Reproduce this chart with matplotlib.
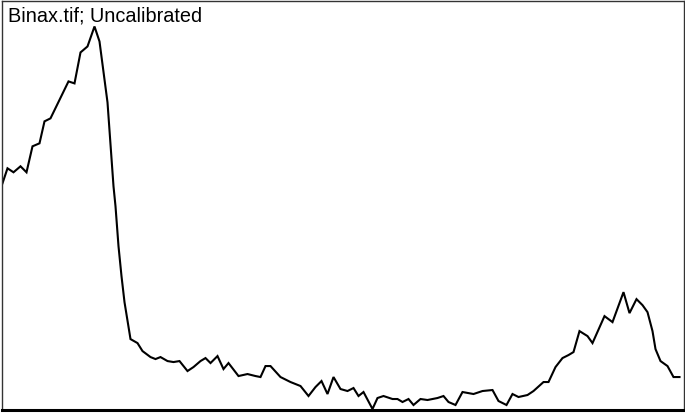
import numpy as np
import matplotlib
matplotlib.use("Agg")
import matplotlib.pyplot as plt

# profile position (pixels along the line) and gray value
position = [1, 6, 12, 19, 25, 31, 38, 43, 49, 67, 73, 79, 86, 93, 98, 106,
            112, 114, 117, 120, 123, 129, 136, 141, 149, 154, 159, 166, 172, 178,
            186, 192, 199, 204, 209, 216, 222, 227, 237, 246, 254, 259, 264, 269,
            279, 289, 299, 307, 314, 320, 326, 332, 339, 346, 352, 357, 362, 371,
            376, 382, 391, 396, 401, 407, 412, 419, 426, 436, 442, 447, 454, 461,
            472, 481, 491, 497, 505, 511, 517, 526, 532, 542, 547, 554, 561, 567,
            572, 578, 586, 591, 603, 611, 622, 628, 635, 641, 646, 651, 654, 659,
            666, 672, 678]
gray = [133.5, 141, 139, 142, 139, 152, 153.5, 164.5, 166, 184.5, 183.5, 199,
        202, 212, 204.5, 174, 132, 122, 102, 87, 74, 55.5, 53.5, 49.5, 46.5,
        45.5, 46.5, 44.5, 44, 44.5, 39.5, 41.5, 44.5, 46, 43.5, 47, 40.5, 43.5,
        37, 38, 37, 36.5, 42, 42, 36.5, 34, 32, 27, 31.5, 34.5, 28, 36.5, 30.5,
        29.5, 31, 27, 29, 20.5, 26, 27, 25.5, 25.5, 24, 25.5, 22.5, 25.5, 25,
        26, 27, 24, 22.5, 29, 28, 29.5, 30, 24.5, 22.5, 28, 26.5, 27.5, 29.5,
        34, 34, 41.5, 46, 47.5, 49, 59.5, 57, 53.5, 67, 64, 79, 68.5, 75.5,
        72.5, 69, 59.5, 50.5, 44.5, 42, 36.5, 36.5]
title = "Binax.tif; Uncalibrated"

W, H = 685, 414
fig = plt.figure(figsize=(W / 100, H / 100), dpi=100)
ax = fig.add_axes([1.5 / W, (H - 410.5) / H, 682 / W, 409 / H])

ax.plot(position, gray, color="black", lw=1.5, solid_joinstyle="miter")
ax.set_xlim(0, 682)
ax.set_ylim(20.25, 225)
ax.set_xticks([])
ax.set_yticks([])
for side in ["left", "top", "right"]:
    ax.spines[side].set_linewidth(1.0)
    ax.spines[side].set_color("#333333")
ax.spines["bottom"].set_linewidth(2.2)
ax.spines["bottom"].set_color("black")

fig.text(8 / W, 1 - 6.5 / H, title, ha="left", va="top",
         fontsize=14.3, family=["Liberation Sans", "DejaVu Sans"])

fig.savefig("out.png", dpi=100)
